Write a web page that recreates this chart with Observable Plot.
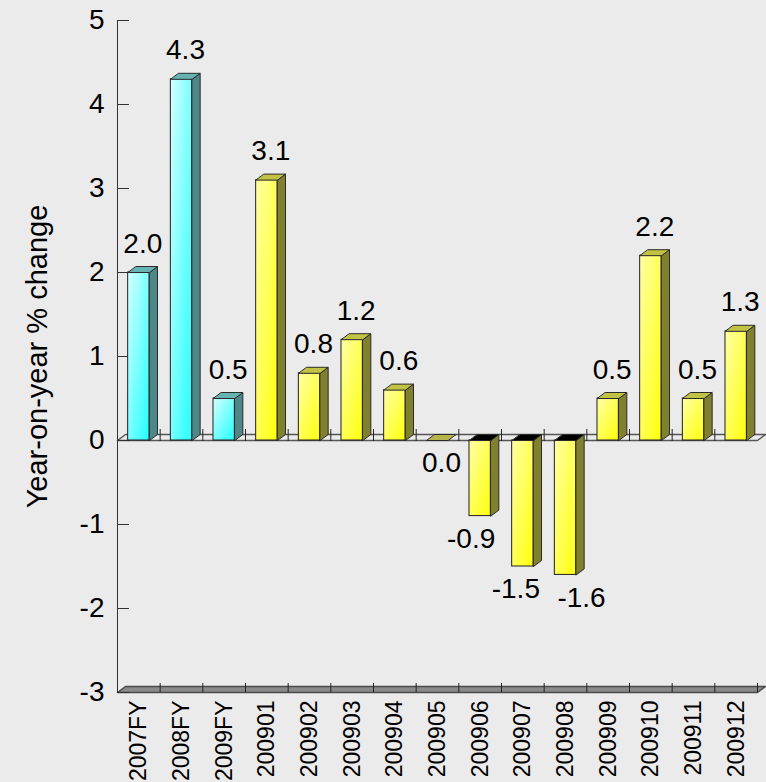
<!DOCTYPE html>
<html>
<head>
<meta charset="utf-8">
<script src="https://cdn.jsdelivr.net/npm/d3@7"></script>
<script src="https://cdn.jsdelivr.net/npm/@observablehq/plot@0.6"></script>
<style>
  html, body { margin: 0; padding: 0; background: #ebebeb; }
  #chart svg { display: block; }
</style>
</head>
<body>
<div id="chart"></div>
<script>
// Year-on-year % change: three fiscal years followed by the months of 2009
const categories = ["2007FY", "2008FY", "2009FY", "200901", "200902", "200903", "200904",
  "200905", "200906", "200907", "200908", "200909", "200910", "200911", "200912"];
const values = [2.0, 4.3, 0.5, 3.1, 0.8, 1.2, 0.6, 0.0, -0.9, -1.5, -1.6, 0.5, 2.2, 0.5, 1.3];
const fiscalYears = ["2007FY", "2008FY", "2009FY"];
const yTicks = [-3, -2, -1, 0, 1, 2, 3, 4, 5];
const yDomain = [-3, 5];
const yTitle = "Year-on-year % change";

// frame and pseudo-3D depth (in pixels)
const W = 766, H = 782;
const mL = 117, mR = 9, mT = 20, mB = 90;
const n = categories.length;
const pxPerX = (W - mL - mR) / n;
const pxPerY = (H - mT - mB) / (yDomain[1] - yDomain[0]);
const dX = 8 / pxPerX;     // depth offset in category units
const dY = 6 / pxPerY;     // depth offset in value units
const half = 0.25;         // half width of a bar's front face
const x0 = -0.5, x1 = n - 0.5;
const font = "'Liberation Sans', Arial, sans-serif";

const bars = categories.map((c, i) => ({
  i, c, v: values[i], fy: fiscalYears.includes(c)
}));

// faces as closed polygons
function sideFace(d) {
  const r = d.i + half;
  return [[r, 0], [r + dX, dY], [r + dX, d.v + dY], [r, d.v]].map(([x, y]) => ({id: d.c, x, y}));
}
function topFace(d) {
  const t = Math.max(d.v, 0);
  return [[d.i - half, t], [d.i + half, t], [d.i + half + dX, t + dY], [d.i - half + dX, t + dY]]
    .map(([x, y]) => ({id: d.c, x, y}));
}
const poly = (pts) => pts.map(([x, y]) => ({x, y}));

const withHeight = bars.filter(d => d.v !== 0);
const sidesFY = withHeight.filter(d => d.fy).flatMap(sideFace);
const sidesM = withHeight.filter(d => !d.fy).flatMap(sideFace);
const topsFY = bars.filter(d => d.fy && d.v > 0).flatMap(topFace);
const topsM = bars.filter(d => !d.fy && d.v > 0).flatMap(topFace);
const topsZero = bars.filter(d => d.v === 0).flatMap(topFace);
const topsNeg = bars.filter(d => d.v < 0).flatMap(topFace);

const boundaries = d3.range(n).map(i => i + 0.5);
// sideways shift (px) for the labels below the negative bars, so they don't collide
const labelNudge = {"200906": -13, "200907": -11, "200908": 12};
const labelX = d => d.i + dX / 2 + (labelNudge[d.c] || 0) / pxPerX;

const faceLine = (data, fill) => Plot.line(data, {
  x: "x", y: "y", z: "id", fill, stroke: "#2b2b2b", strokeWidth: 1, curve: "linear-closed"
});

const chart = Plot.plot({
  width: W, height: H,
  marginLeft: mL, marginRight: mR, marginTop: mT, marginBottom: mB,
  style: {background: "#ebebeb", fontFamily: font, color: "#000"},
  x: {type: "linear", domain: [x0, x1], axis: null},
  y: {domain: yDomain, axis: null},
  marks: [
    // floor at the bottom of the value range
    Plot.line(poly([[x0, yDomain[0]], [x1, yDomain[0]], [x1 + dX, yDomain[0] + dY], [x0 + dX, yDomain[0] + dY]]),
      {x: "x", y: "y", fill: "#8a8a8a", stroke: "#4a4a4a", curve: "linear-closed"}),
    Plot.ruleX([...boundaries], {y1: yDomain[0], y2: yDomain[0] + 9 / pxPerY, stroke: "#222"}),
    // zero plane
    Plot.line(poly([[x0, 0], [x1, 0], [x1 + dX, dY], [x0 + dX, dY]]),
      {x: "x", y: "y", fill: "none", stroke: "#555", curve: "linear-closed"}),
    Plot.ruleX(boundaries.slice(0, -1), {y1: -1 / pxPerY, y2: 11 / pxPerY, stroke: "#222"}),
    // value axis
    Plot.ruleX([x0], {y1: yDomain[0], y2: yDomain[1], stroke: "#333"}),
    Plot.ruleY(yTicks, {x1: x0, x2: x0 + 12 / pxPerX, stroke: "#333"}),
    Plot.axisY({ticks: yTicks, tickSize: 0, tickPadding: 13, fontSize: 28,
      tickFormat: d => String(d), label: null}),
    Plot.text([yTitle], {frameAnchor: "left", textAnchor: "middle", rotate: -90, dx: -80,
      fontSize: 29, fill: "#000"}),
    // category axis
    Plot.axisX({ticks: d3.range(n), tickFormat: i => categories[i], tickRotate: -90,
      tickSize: 0, tickPadding: 8, fontSize: 23, label: null}),
    // bars
    faceLine(sidesFY, "#4d8787"),
    faceLine(sidesM, "#80802e"),
    Plot.rect(withHeight, {
      x1: d => d.i - half, x2: d => d.i + half, y1: 0, y2: "v",
      fill: d => d.fy ? "url(#faceCyan)" : "url(#faceYellow)", stroke: "#1e1e1e", strokeWidth: 1
    }),
    faceLine(topsFY, "#66b3b3"),
    faceLine(topsM, "#c2c244"),
    faceLine(topsZero, "#b4b44a"),
    faceLine(topsNeg, "#000"),
    // value labels
    Plot.text(bars.filter(d => d.v > 0), {
      x: labelX, y: d => d.v + dY, text: d => d.v.toFixed(1),
      lineAnchor: "bottom", dy: -14, fontSize: 28, fill: "#000"
    }),
    Plot.text(bars.filter(d => d.v <= 0), {
      x: labelX, y: "v", text: d => d.v.toFixed(1),
      lineAnchor: "top", dy: 12, fontSize: 28, fill: "#000"
    })
  ]
});

const defs = d3.select(chart).insert("defs", ":first-child");
defs.html(`
  <linearGradient id="faceCyan" x1="0" y1="0" x2="1" y2="1">
    <stop offset="0" stop-color="#d6ffff"/><stop offset="1" stop-color="#22ffff"/>
  </linearGradient>
  <linearGradient id="faceYellow" x1="0" y1="0" x2="1" y2="1">
    <stop offset="0" stop-color="#ffffa6"/><stop offset="1" stop-color="#ffff0a"/>
  </linearGradient>`);

document.getElementById("chart").append(chart);
</script>
</body>
</html>
